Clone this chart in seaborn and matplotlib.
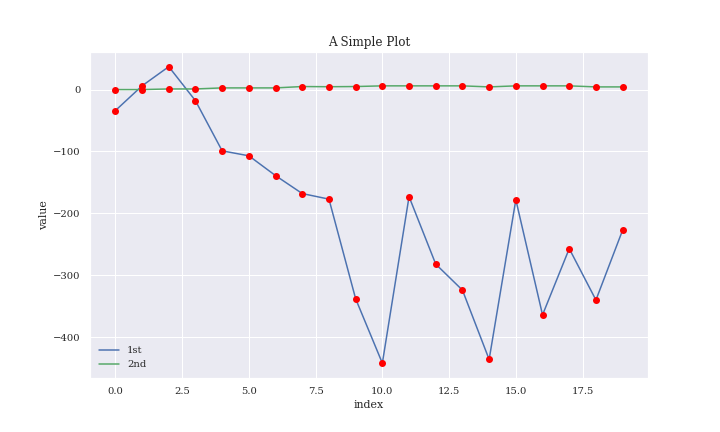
import numpy as np
import pandas as pd
import matplotlib
matplotlib.use("Agg")
import matplotlib.pyplot as plt
import seaborn as sns

# --- data ---
index = list(range(20))
first = [-34, 6, 37, -18, -99, -107, -139, -168, -177, -338,
         -442, -173, -282, -324, -436, -178, -364, -257, -340, -227]
second = [0, 0, 1, 1, 2.7, 2.7, 2.7, 4.9, 4.6, 4.9,
          6, 6, 6, 6, 4.3, 6, 6, 6, 4.3, 4.3]

df = pd.DataFrame({"index": index, "1st": first, "2nd": second})
long_df = df.melt(id_vars="index", var_name="series", value_name="value")

# --- style ---
sns.set_theme(style="darkgrid", context="notebook")
plt.rcParams["font.family"] = ["DejaVu Serif"]

fig, ax = plt.subplots(figsize=(10, 6), dpi=72)
fig.subplots_adjust(left=0.125, right=0.9, bottom=0.125, top=0.88)

sns.lineplot(data=long_df, x="index", y="value", hue="series",
             palette=["#4C72B0", "#55A868"], linewidth=1.5, ax=ax)
sns.scatterplot(data=long_df, x="index", y="value", color="red",
                s=49, linewidth=0, legend=False, ax=ax, zorder=3)

ax.set_title("A Simple Plot", fontsize=12)
ax.set_xlabel("index", fontsize=11)
ax.set_ylabel("value", fontsize=11)
ax.tick_params(labelsize=10)
ax.legend(loc="lower left", frameon=False, fontsize=10)

plt.savefig("out.png", dpi=72)
